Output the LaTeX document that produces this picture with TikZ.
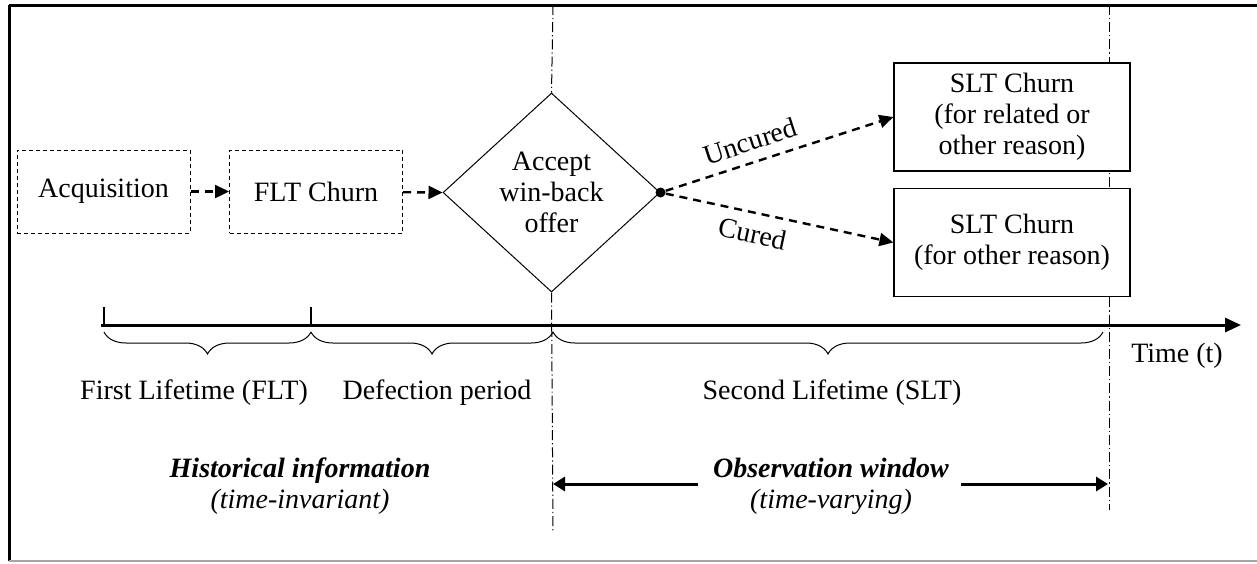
\documentclass[tikz,border=0pt]{standalone}
\usepackage{fontspec}
\setmainfont{Liberation Serif}
\usetikzlibrary{shapes.geometric,arrows.meta,decorations.pathreplacing}
\begin{document}
\begin{tikzpicture}[x=0.5pt,y=-0.5pt,
  every node/.style={font=\fontsize{14}{15.5}\selectfont},
  dbox/.style={draw, dash pattern=on 2pt off 1.5pt, line width=0.5pt, minimum width=86.5pt, minimum height=41.5pt, inner sep=0},
  sbox/.style={draw, fill=white, line width=0.6pt, minimum width=118pt, minimum height=54pt, inner sep=0, align=center},
  dec/.style={draw, shape=diamond, line width=0.5pt, fill=white, minimum width=108.5pt, minimum height=99.5pt, inner sep=0, align=center},
  darr/.style={line width=1.2pt, dash pattern=on 4pt off 3pt, -{Triangle[length=7pt,width=6.5pt]}},
  ddot/.style={line width=0.5pt, dash pattern=on 5pt off 1.5pt on 0.6pt off 1.5pt},
  brc/.style={decorate, decoration={brace, mirror, amplitude=11pt}, line width=0.5pt},
  warr/.style={line width=1.5pt, -{Triangle[length=6pt,width=7pt]}},
  lbl/.style={inner sep=0},
]
\useasboundingbox (0,0) rectangle (1257,563);
% frame
\draw[line width=1.5pt] (9,5) -- (1257,5);
\draw[line width=1.5pt] (9,5) -- (9,561);
\draw[line width=1pt, gray!70] (9,561) -- (1257,561);

% right dash-dot line (behind boxes)
\coordinate (r0) at (1109,5);
\coordinate (r1) at (1109,510);
\draw[ddot] (r0) -- (r1);

% nodes
\node[dbox] (acq) at (103.5,191.5) {Acquisition};
\node[dbox] (flt) at (316,191.5) {FLT Churn};
\node[dec] (win) at (551.5,192.5) {Accept\\win-back\\offer};
\node[circle, fill, inner sep=0, minimum size=5pt] (dot) at (win.east) {};
\node[sbox] (s1) at (1012,117) {SLT Churn\\(for related or\\other reason)};
\node[sbox] (s2) at (1012,242.5) {SLT Churn\\(for other reason)};

% left dash-dot line
\coordinate (l0) at (553,5);
\coordinate (l1) at (553,532);
\draw[ddot] (l0) -- (win.north);
\draw[ddot] (win.south) -- (l1);

% connectors
\draw[darr] (acq) -- (flt);
\draw[darr] (flt) -- (win.west);
\draw[darr] (dot) -- node[sloped, above, pos=0.4, inner sep=5pt] {Uncured} (s1.west);
\draw[darr] (dot) -- node[sloped, below, pos=0.4, inner sep=5pt] {Cured} (s2.west);

% time axis
\coordinate (ax0) at (101,325);
\coordinate (ax1) at (1241,325);
\draw[line width=1.5pt, -{Triangle[length=8pt,width=7pt]}] (ax0) -- (ax1);
\coordinate (t0) at (104,307);
\coordinate (t0b) at (104,325);
\coordinate (t1) at (311,307);
\coordinate (t1b) at (311,325);
\draw[line width=0.6pt] (t0) -- (t0b);
\draw[line width=0.6pt] (t1) -- (t1b);

% braces
\coordinate (b0) at (104,332);
\coordinate (b1) at (311,332);
\coordinate (b2) at (553,332);
\coordinate (b3) at (1103,332);
\draw[brc] (b0) -- (b1);
\draw[brc] (b1) -- (b2);
\draw[brc] (b2) -- (b3);

\node[lbl] (time) at (1177,356) {Time (t)};
\node[lbl] (flab) at (194,393) {First Lifetime (FLT)};
\node[lbl] (dlab) at (437,393) {Defection period};
\node[lbl] (slab) at (832,393) {Second Lifetime (SLT)};

\node[lbl, align=center] (hist) at (300,486) {\textbf{\textit{Historical information}}\\\textit{(time-invariant)}};
\node[lbl, align=center] (obs) at (831,486) {\textbf{\textit{Observation window}}\\\textit{(time-varying)}};

\coordinate (oa) at (698,484);
\coordinate (ob) at (961,484);
\coordinate (oal) at (553,484);
\coordinate (obr) at (1108,484);
\draw[warr] (oa) -- (oal);
\draw[warr] (ob) -- (obr);
\end{tikzpicture}
\end{document}
